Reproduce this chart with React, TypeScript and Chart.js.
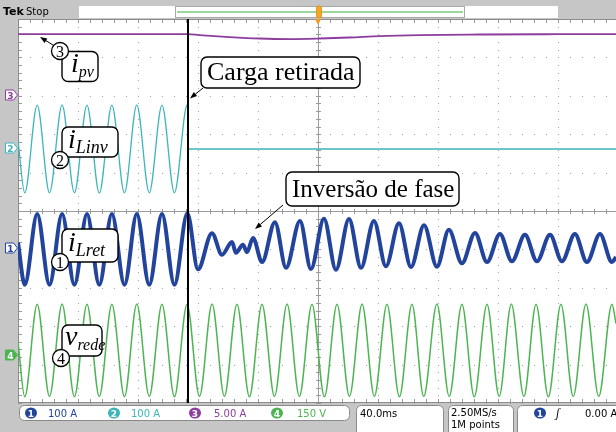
import React, { useEffect, useRef } from "react";
import { Chart, registerables } from "chart.js";

Chart.register(...registerables);

// ---- scope settings ----
const msPerDiv = 40; // 40.0 ms/div
const xMaxMs = 398.7; // right edge of screen (slightly cut)
const eventTimeMs = 113.3; // "Carga retirada"

const ch1Scale = 100; // A/div  i_Lret
const ch2Scale = 100; // A/div  i_Linv
const ch3Scale = 5; // A/div    i_pv
const ch4Scale = 150; // V/div  v_rede

const ch1Pos = -1.0; // trace position (div)
const ch2Pos = 1.615;
const ch3Pos = 3.02;
const ch4Pos = -3.63;

// ---- ch3 : i_pv (A) ----
const iPvT = [0, 60, 113.3, 121, 141, 161, 181, 201, 221, 241, 268, 308, 360, 398.7];
const iPvA = [7.94, 7.94, 7.93, 7.81, 7.55, 7.36, 7.29, 7.36, 7.49, 7.68, 7.81, 7.88, 7.92, 7.94];

// ---- ch2 : i_Linv (A) ----
const iLinvT = [0, 4.5, 12.8, 21.0, 29.4, 37.6, 46.0, 54.2, 62.6, 71.0, 79.2, 87.5, 96.0, 104.3, 112.9, 113.4, 398.7];
const iLinvA = [22, -114, 114, -114, 115, -114, 114, -115, 114, -114, 115, -114, 114, -114, 116, 0, 0];

// ---- ch1 : i_Lret (A) ----
const iLretT = [
  0, 4.5, 12.8, 21.0, 29.4, 37.6, 46.0, 54.2, 62.6, 71.0, 79.2, 87.5, 96.0, 104.3, 112.9,
  120.0, 129.3, 136.0, 142.7, 145.3, 150.0, 152.7, 156.7, 162.7, 171.3, 178.7, 188.0, 195.3,
  204.0, 212.0, 220.7, 228.7, 237.3, 245.3, 254.0, 262.0, 270.7, 279.3, 287.3, 296.0, 304.7,
  312.7, 321.3, 329.3, 338.0, 346.0, 354.7, 362.7, 371.3, 379.3, 388.0, 396.0, 398.7,
];
const iLretA = [
  18, -92, 92, -92, 92, -92, 92, -92, 92, -92, 92, -92, 92, -92, 94,
  -52, 42, -14, 19, -9, 12, -7, 30, -33, 71, -48, 74, -51,
  80, -53, 79, -48, 74, -44, 68, -46, 63, -45, 51, -36, 43,
  -33, 40, -31, 38, -31, 38, -31, 40, -33, 40, -33, -20,
];

// ---- ch4 : v_rede (V) ----
const vRedeT = [
  0, 4.5, 12.8, 21.0, 29.4, 37.6, 46.0, 54.2, 62.6, 71.0, 79.2, 87.5, 96.0, 104.3, 112.7,
  121.0, 129.4, 137.6, 146.0, 154.3, 162.7, 171.0, 179.4, 187.6, 196.0, 204.3, 212.7, 221.0,
  229.4, 237.6, 246.0, 254.3, 262.7, 270.5, 279.3, 287.5, 296.0, 304.2, 312.7, 320.8, 328.9,
  337.3, 345.4, 353.6, 362.0, 370.2, 378.7, 387.2, 396.0, 398.7,
];
const vRedeV = [
  34, -181, 180, -180, 181, -181, 180, -180, 180, -181, 181, -180, 180, -181, 180,
  -180, 181, -180, 180, -181, 180, -180, 181, -180, 180, -181, 180, -180,
  181, -180, 180, -181, 180, -180, 181, -180, 180, -181, 180, -180, 181,
  -180, 180, -181, 180, -180, 181, -180, 180, 105,
];

const colCh1 = "#22449d";
const colCh2 = "#3db5bb";
const colCh3 = "#8d3d9d";
const colCh4 = "#4cb552";

function pts(t: number[], v: number[], pos: number, scale: number) {
  return t.map((x, i) => ({ x, y: pos + v[i] / scale }));
}

const graticule = {
  id: "graticule",
  beforeDatasetsDraw(chart: any) {
    const { ctx, chartArea: a, scales } = chart;
    const xs = scales.x;
    const ys = scales.y;
    ctx.save();
    ctx.fillStyle = "#ffffff";
    ctx.fillRect(a.left, a.top, a.right - a.left, a.bottom - a.top);
    // dotted division lines
    ctx.fillStyle = "#a4a4a4";
    for (let i = 0; i <= 10; i++) {
      const px = Math.round(xs.getPixelForValue(i * msPerDiv));
      if (px > a.right) continue;
      for (let m = -25; m <= 25; m++) {
        const py = Math.round(ys.getPixelForValue(m * 0.2));
        ctx.fillRect(px, py, 1, 1);
      }
    }
    for (let j = -5; j <= 5; j++) {
      const py = Math.round(ys.getPixelForValue(j));
      for (let m = 0; m <= 50; m++) {
        const px = Math.round(xs.getPixelForValue(m * msPerDiv * 0.2));
        if (px > a.right) continue;
        ctx.fillRect(px, py, 1, 1);
      }
    }
    // center cross with minor ticks
    ctx.fillStyle = "#9a9a9a";
    const cy = Math.round(ys.getPixelForValue(0));
    const cx = Math.round(xs.getPixelForValue(5 * msPerDiv));
    ctx.fillRect(a.left, cy, a.right - a.left, 1);
    ctx.fillRect(cx, a.top, 1, a.bottom - a.top);
    for (let m = 0; m <= 50; m++) {
      const px = Math.round(xs.getPixelForValue(m * msPerDiv * 0.2));
      if (px > a.right) continue;
      ctx.fillRect(px, cy - 2, 1, 5);
      ctx.fillRect(px, Math.round(a.top), 1, 4);
      ctx.fillRect(px, Math.round(a.bottom) - 4, 1, 4);
    }
    for (let m = -25; m <= 25; m++) {
      const py = Math.round(ys.getPixelForValue(m * 0.2));
      ctx.fillRect(cx - 2, py, 5, 1);
      ctx.fillRect(Math.round(a.left), py, 4, 1);
    }
    // frame
    ctx.fillStyle = "#8c8c8c";
    ctx.fillRect(a.left, a.top, a.right - a.left, 1);
    ctx.fillRect(a.left, Math.round(a.bottom) - 1, a.right - a.left, 1);
    ctx.fillRect(a.left, a.top, 1, a.bottom - a.top);
    ctx.restore();
  },
  afterDatasetsDraw(chart: any) {
    const { ctx, chartArea: a, scales } = chart;
    const xe = Math.round(scales.x.getPixelForValue(eventTimeMs));
    ctx.save();
    ctx.fillStyle = "#000000";
    ctx.fillRect(xe - 1, a.top, 2, a.bottom - a.top);
    // trigger position marker
    const xt = scales.x.getPixelForValue(5 * msPerDiv);
    ctx.fillStyle = "#f39a1e";
    ctx.beginPath();
    ctx.moveTo(xt - 3, a.top);
    ctx.lineTo(xt + 3, a.top);
    ctx.lineTo(xt, a.top + 6);
    ctx.closePath();
    ctx.fill();
    ctx.restore();
  },
};

function Arrow({ x1, y1, x2, y2 }: { x1: number; y1: number; x2: number; y2: number }) {
  const ang = Math.atan2(y2 - y1, x2 - x1);
  const L = 7;
  const W = 2.6;
  const bx = x2 - L * Math.cos(ang);
  const by = y2 - L * Math.sin(ang);
  const p1 = `${bx + W * Math.sin(ang)},${by - W * Math.cos(ang)}`;
  const p2 = `${bx - W * Math.sin(ang)},${by + W * Math.cos(ang)}`;
  return (
    <g>
      <line x1={x1} y1={y1} x2={bx} y2={by} stroke="#000" strokeWidth={1} />
      <polygon points={`${x2},${y2} ${p1} ${p2}`} fill="#000" />
    </g>
  );
}

const serif = "'Liberation Serif', 'DejaVu Serif', serif";
const sans = "'DejaVu Sans', sans-serif";

function NumCircle({ cx, cy, n }: { cx: number; cy: number; n: string }) {
  return (
    <g>
      <circle cx={cx} cy={cy} r={8.5} fill="#fff" stroke="#000" strokeWidth={1.3} />
      <text x={cx} y={cy + 5.5} textAnchor="middle" fontFamily={serif} fontSize={16}>
        {n}
      </text>
    </g>
  );
}

function Label({
  x, y, w, h, main, sub, bx, by, subSize,
}: { x: number; y: number; w: number; h: number; main: string; sub: string; bx: number; by: number; subSize: number }) {
  return (
    <g>
      <rect x={x} y={y} width={w} height={h} rx={6} fill="#fff" stroke="#000" strokeWidth={1.4} />
      <text x={bx} y={by} fontFamily={serif} fontStyle="italic" fontSize={28}>
        {main}
        <tspan fontSize={subSize} dy={5}>{sub}</tspan>
      </text>
    </g>
  );
}

function ChMarker({ y, n, color, filled }: { y: number; n: string; color: string; filled?: boolean }) {
  return (
    <g>
      <polygon
        points={`5.5,${y - 5} 13.5,${y - 5} 17.5,${y} 13.5,${y + 5} 5.5,${y + 5}`}
        fill={filled ? color : "#fff"}
        stroke={color}
        strokeWidth={1}
      />
      <text x={10.5} y={y + 3.5} textAnchor="middle" fontFamily={sans} fontSize={9} fontWeight="bold" fill={filled ? "#fff" : color}>
        {n}
      </text>
    </g>
  );
}

function ChBadge({ cx, n, color }: { cx: number; n: string; color: string }) {
  return (
    <g>
      <ellipse cx={cx} cy={413} rx={6} ry={5.5} fill={color} />
      <text x={cx} y={416.5} textAnchor="middle" fontFamily={sans} fontSize={9} fontWeight="bold" fill="#fff">
        {n}
      </text>
    </g>
  );
}

export default function App() {
  const ref = useRef<HTMLCanvasElement | null>(null);

  useEffect(() => {
    if (!ref.current) return;
    const chart = new Chart(ref.current, {
      type: "line",
      data: {
        datasets: [
          { label: "i_pv", data: pts(iPvT, iPvA, ch3Pos, ch3Scale), borderColor: colCh3, borderWidth: 1.8 },
          { label: "i_Linv", data: pts(iLinvT, iLinvA, ch2Pos, ch2Scale), borderColor: colCh2, borderWidth: 1.3 },
          { label: "v_rede", data: pts(vRedeT, vRedeV, ch4Pos, ch4Scale), borderColor: colCh4, borderWidth: 1.5 },
          { label: "i_Lret", data: pts(iLretT, iLretA, ch1Pos, ch1Scale), borderColor: colCh1, borderWidth: 4 },
        ] as any,
      },
      options: {
        animation: false,
        responsive: false,
        devicePixelRatio: 1,
        events: [],
        layout: { padding: { left: 18, top: 19, right: 0, bottom: 29 } },
        scales: {
          x: { type: "linear", min: 0, max: xMaxMs, display: false },
          y: { type: "linear", min: -5, max: 5, display: false },
        },
        elements: {
          point: { radius: 0 },
          line: { cubicInterpolationMode: "monotone", fill: false },
        },
        plugins: { legend: { display: false }, tooltip: { enabled: false } },
      },
      plugins: [graticule],
    });
    return () => chart.destroy();
  }, []);

  return (
    <div style={{ position: "fixed", left: 0, top: 0, width: 616, height: 432, background: "#c6c6c6", overflow: "hidden" }}>
      <canvas ref={ref} width={616} height={432} style={{ position: "absolute", left: 0, top: 0, width: 616, height: 432 }} />
      <svg width={616} height={432} style={{ position: "absolute", left: 0, top: 0 }}>
        {/* header */}
        <text x={3} y={15} fontFamily={sans} fontSize={11} fontWeight="bold" fill="#000">Tek</text>
        <text x={26} y={15} fontFamily={sans} fontSize={10} fill="#000">Stop</text>
        <rect x={79} y={6} width={96} height={12} fill="#fff" />
        <rect x={175.5} y={6.5} width={289} height={11} fill="#fff" stroke="#a8a8a8" />
        <line x1={177} x2={463} y1={12} y2={12} stroke="#9bd89b" strokeWidth={2} />
        <rect x={465} y={6} width={93} height={12} fill="#fff" />
        <rect x={316.5} y={6} width={5} height={12} rx={2} fill="#f5a623" stroke="#e08a10" strokeWidth={0.8} />

        {/* channel ground markers */}
        <ChMarker y={95} n="3" color={colCh3} />
        <ChMarker y={148} n="2" color={colCh2} />
        <ChMarker y={248} n="1" color={colCh1} />
        <ChMarker y={355} n="4" color={colCh4} filled />

        {/* annotations */}
        <Arrow x1={53} y1={45} x2={40} y2={37} />
        <Label x={62} y={51.5} w={36} h={30} main="i" sub="pv" bx={71} by={72} subSize={16} />
        <NumCircle cx={60} cy={51} n="3" />

        <Arrow x1={203} y1={88} x2={190} y2={98.5} />
        <rect x={201} y={57} width={159} height={31} rx={6} fill="#fff" stroke="#000" strokeWidth={1.4} />
        <text x={207} y={80} fontFamily={serif} fontSize={26}>Carga retirada</text>

        <Label x={62} y={127} w={56} h={30} main="i" sub="Linv" bx={68} by={148} subSize={18} />
        <NumCircle cx={60} cy={160} n="2" />

        <Arrow x1={283} y1={205} x2={255} y2={229} />
        <rect x={286} y={172} width={173} height={34} rx={6} fill="#fff" stroke="#000" strokeWidth={1.4} />
        <text x={292} y={197} fontFamily={serif} fontSize={25}>Inversão de fase</text>

        <Label x={62} y={229} w={56} h={33} main="i" sub="Lret" bx={68} by={251} subSize={18} />
        <NumCircle cx={60} cy={262} n="1" />

        <Label x={62} y={325} w={40} h={31} main="v" sub="rede" bx={65} by={345} subSize={16} />
        <NumCircle cx={61} cy={358} n="4" />

        {/* status bar */}
        <rect x={19.5} y={405.5} width={330} height={15} rx={5} fill="#fff" stroke="#8a8a8a" />
        <ChBadge cx={31} n="1" color={colCh1} />
        <text x={48} y={417} fontFamily={sans} fontSize={10} fill={colCh1}>100 A</text>
        <ChBadge cx={114} n="2" color={colCh2} />
        <text x={131} y={417} fontFamily={sans} fontSize={10} fill={colCh2}>100 A</text>
        <ChBadge cx={195} n="3" color={colCh3} />
        <text x={214} y={417} fontFamily={sans} fontSize={10} fill={colCh3}>5.00 A</text>
        <ChBadge cx={277} n="4" color={colCh4} />
        <text x={297} y={417} fontFamily={sans} fontSize={10} fill={colCh4}>150 V</text>

        <rect x={356.5} y={405.5} width={87} height={32} rx={5} fill="#fff" stroke="#8a8a8a" />
        <text x={360} y={417} fontFamily={sans} fontSize={10} fill="#000">40.0ms</text>
        <rect x={448.5} y={405.5} width={65} height={32} rx={5} fill="#fff" stroke="#8a8a8a" />
        <text x={451} y={416} fontFamily={sans} fontSize={10} fill="#000">2.50MS/s</text>
        <text x={451} y={428} fontFamily={sans} fontSize={10} fill="#000">1M points</text>
        <rect x={517.5} y={405.5} width={110} height={32} rx={5} fill="#fff" stroke="#8a8a8a" />
        <ChBadge cx={540} n="1" color={colCh1} />
        <text x={556} y={417} fontFamily={serif} fontSize={12} fontStyle="italic" fill="#000">ʃ</text>
        <text x={585} y={417} fontFamily={sans} fontSize={10} fill="#000">0.00 A</text>
      </svg>
    </div>
  );
}
